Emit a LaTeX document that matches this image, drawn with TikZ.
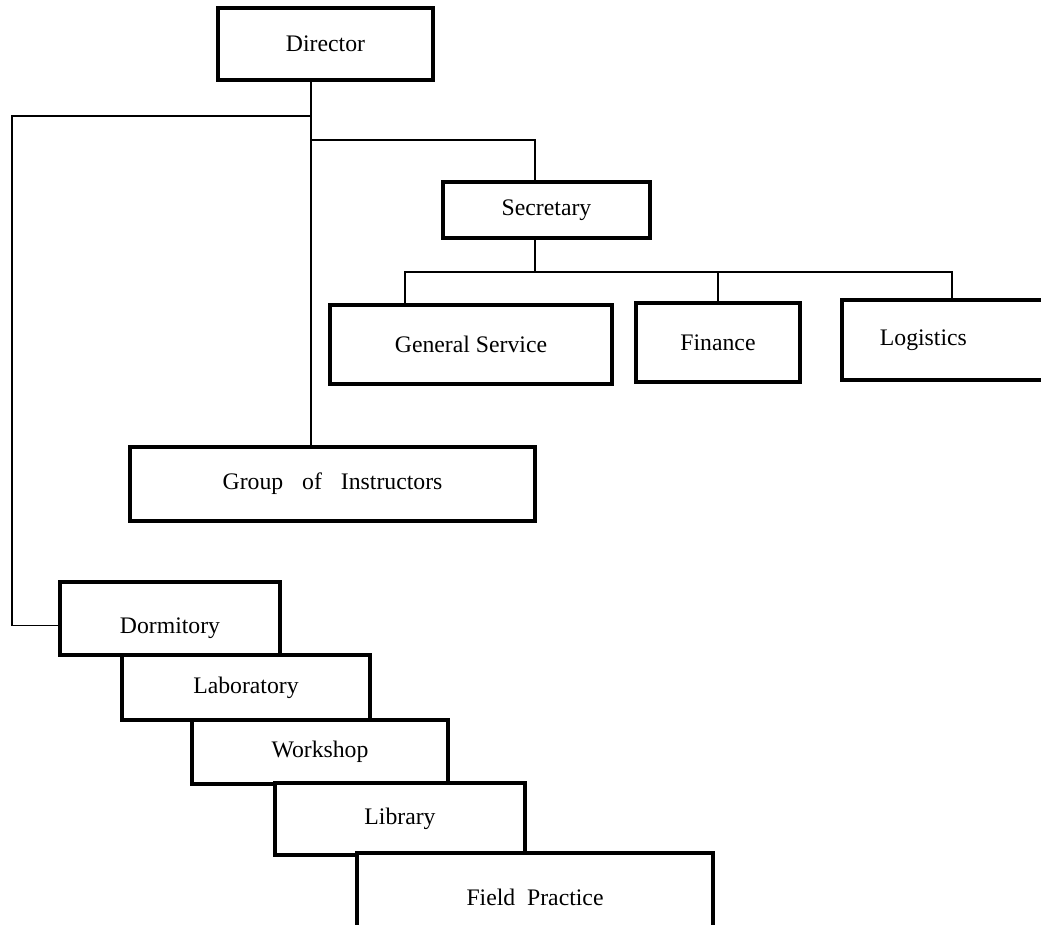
\documentclass[tikz,border=0pt]{standalone}
\usepackage{fontspec}
\setmainfont{Liberation Serif}
\newcommand{\pxu}{0.02cm}
\tikzset{
  unitbox/.style={draw, line width=2.2pt, fill=white, inner sep=0pt,
    font=\fontsize{13.5}{15}\selectfont},
  link/.style={line width=0.9pt}
}

\begin{document}
\begin{tikzpicture}[x=0.02cm, y=-0.02cm]
        \useasboundingbox (0,0) rectangle (1041,925);
        %\draw[gray] (0,0) rectangle (1041,925);
        \coordinate (trunk) at (311,0);
        \coordinate (secline) at (535,0);
        \coordinate (secbend) at (311,140);
        \coordinate (bus) at (0,272);
        \coordinate (leftbend) at (12,116);
        \coordinate (gsdrop) at (405,0);
        \coordinate (logdrop) at (952,0);

        % boxes
        \node[unitbox, minimum width={215*\pxu}, minimum height={72*\pxu}] (director) at (325.5,44) {Director};
        \node[unitbox, minimum width={207*\pxu}, minimum height={56*\pxu}] (secretary) at (546.5,210) {Secretary};
        \node[unitbox, minimum width={282*\pxu}, minimum height={79*\pxu}] (genservice) at (471,344.5) {General Service};
        \node[unitbox, minimum width={164*\pxu}, minimum height={79*\pxu}] (finance) at (718,342.5) {Finance};
        \node[unitbox, anchor=west, text width={164*\pxu}, inner xsep={38*\pxu}, align=left,
          minimum height={80*\pxu}] (logistics) at (840,340) {Logistics};
        \node[unitbox, minimum width={405*\pxu}, minimum height={74*\pxu}] (instructors) at (332.5,484) {Group\hspace{0.8em}of\hspace{0.8em}Instructors};

        % staircase of facilities
        \node[unitbox, minimum width={220*\pxu}, minimum height={73*\pxu},
          text height=0.72cm, text depth=0.1cm] (dormitory) at (170,618.5) {Dormitory};
        \node[unitbox, minimum width={248*\pxu}, minimum height={65*\pxu}] (laboratory) at (246,687.5) {Laboratory};
        \node[unitbox, minimum width={256*\pxu}, minimum height={64*\pxu}] (workshop) at (320,752) {Workshop};
        \node[unitbox, minimum width={250*\pxu}, minimum height={72*\pxu}] (library) at (400,819) {Library};
        \node[unitbox, minimum width={356*\pxu}, minimum height={88*\pxu}] (fieldpractice) at (535,897) {Field\hspace{0.5em}Practice};

        % connectors
        \draw[link] (director.south -| trunk) -- (instructors.north -| trunk);
        \draw[link] (leftbend -| trunk) -- (leftbend) |- ([yshift=-7*\pxu]dormitory.west);
        \draw[link] (secbend) -| (secretary.north -| secline);
        \draw[link] (secretary.south -| secline) -- (bus -| secline);
        \draw[link] (genservice.north -| gsdrop) -- (bus -| gsdrop) -- (bus -| logdrop) -- (logistics.north -| logdrop);
        \draw[link] (bus -| finance.north) -- (finance.north);
\end{tikzpicture}
\end{document}
